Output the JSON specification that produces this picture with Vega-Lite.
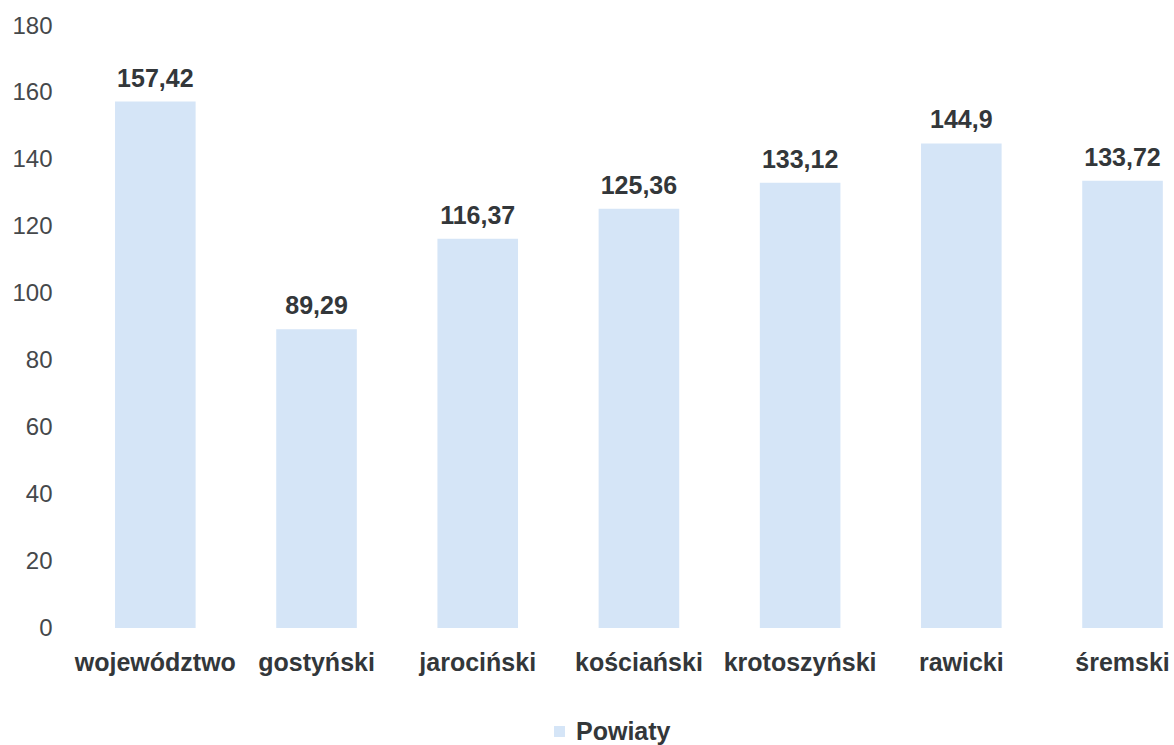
{
  "$schema": "https://vega.github.io/schema/vega-lite/v6.json",
  "autosize": {"type": "none"},
  "width": 1101,
  "height": 602,
  "padding": {"left": 73, "top": 26, "right": 0, "bottom": 117},
  "background": "white",
  "config": {
    "view": {"stroke": null},
    "font": "Liberation Sans",
    "locale": {"number": {"decimal": ",", "thousands": " ", "grouping": [3], "currency": ["", " zł"]}}
  },
  "data": {
    "values": [
      {"powiat": "województwo", "value": 157.42},
      {"powiat": "gostyński", "value": 89.29},
      {"powiat": "jarociński", "value": 116.37},
      {"powiat": "kościański", "value": 125.36},
      {"powiat": "krotoszyński", "value": 133.12},
      {"powiat": "rawicki", "value": 144.9},
      {"powiat": "śremski", "value": 133.72}
    ]
  },
  "encoding": {
    "x": {
      "field": "powiat",
      "type": "nominal",
      "sort": null,
      "scale": {"paddingInner": 0.5, "paddingOuter": 0.165, "align": 0.79},
      "axis": {
        "title": null,
        "domain": false,
        "ticks": false,
        "tickSize": 0,
        "labelAngle": 0,
        "labelFontSize": 25,
        "labelFontWeight": "bold",
        "labelColor": "#33373a",
        "labelPadding": 22,
        "labelBaseline": "top"
      }
    },
    "y": {
      "field": "value",
      "type": "quantitative",
      "scale": {"domain": [0, 180], "nice": false},
      "axis": {
        "title": null,
        "domain": false,
        "ticks": false,
        "tickSize": 0,
        "grid": false,
        "values": [0, 20, 40, 60, 80, 100, 120, 140, 160, 180],
        "labelFontSize": 24,
        "labelColor": "#45484b",
        "labelPadding": 21
      }
    }
  },
  "layer": [
    {
      "mark": {"type": "bar"},
      "encoding": {
        "color": {
          "datum": "Powiaty",
          "scale": {"range": ["#d5e5f7"]},
          "legend": {
            "title": null,
            "orient": "none",
            "legendX": 474,
            "legendY": 693,
            "padding": 0,
            "symbolType": "square",
            "symbolSize": 120,
            "symbolStrokeWidth": 0,
            "labelFontSize": 25,
            "labelFontWeight": "bold",
            "labelColor": "#33373a",
            "labelOffset": 4
          }
        }
      }
    },
    {
      "mark": {"type": "text", "baseline": "alphabetic", "dy": -15, "fontSize": 25, "fontWeight": "bold", "color": "#33373a"},
      "encoding": {
        "text": {"field": "value", "type": "quantitative", "format": ".2~f"}
      }
    }
  ]
}
